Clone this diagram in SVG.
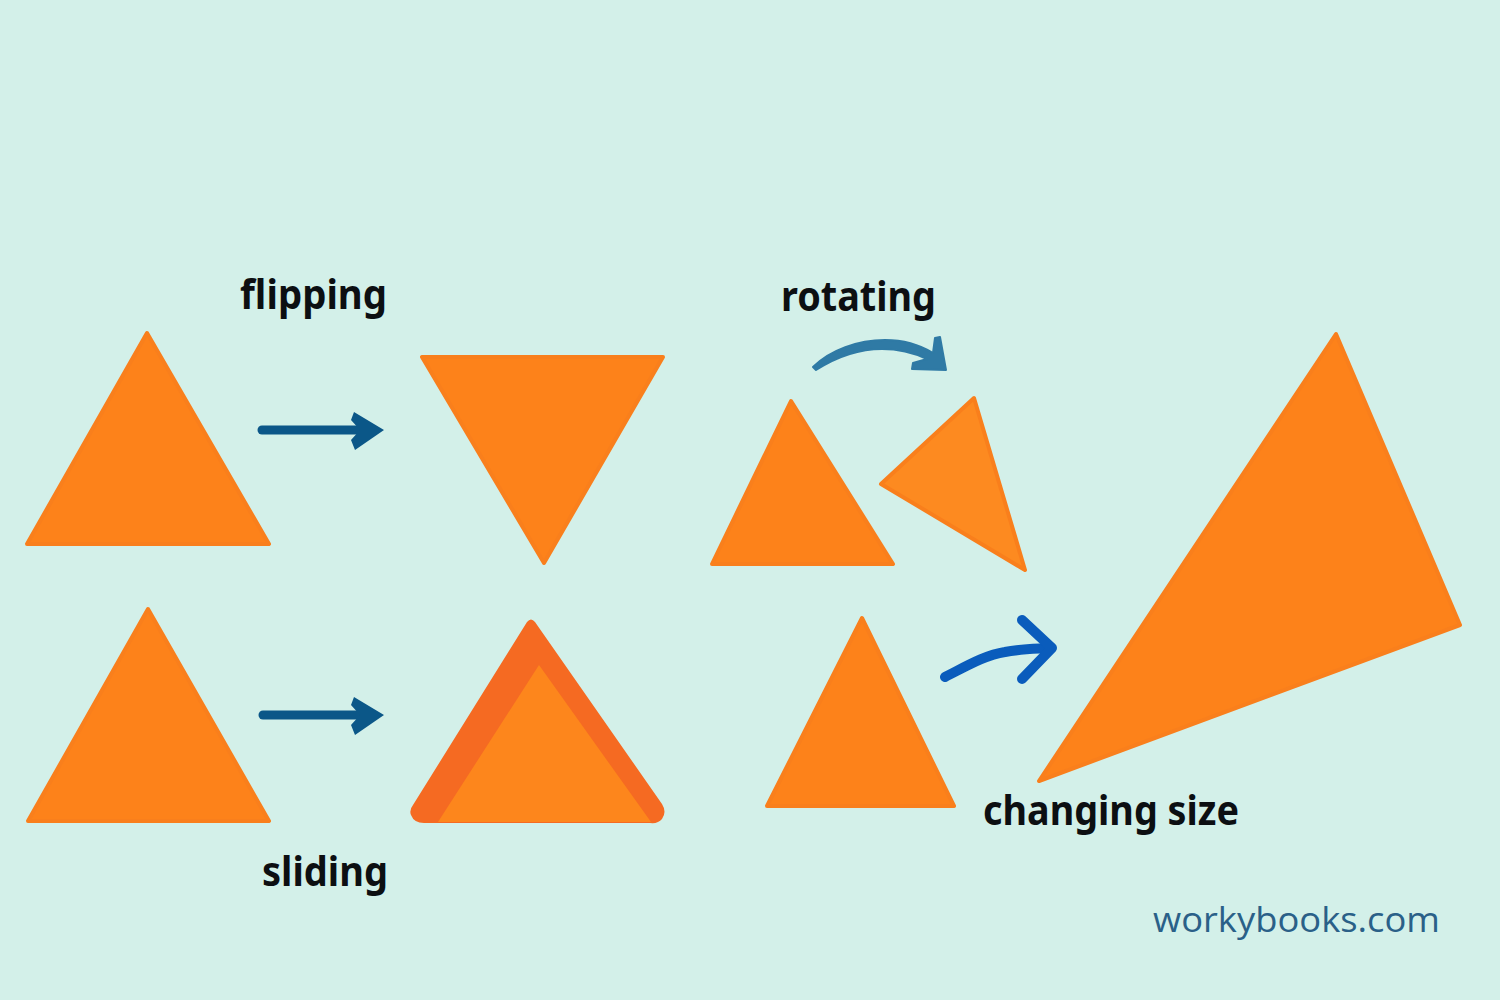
<svg xmlns="http://www.w3.org/2000/svg" width="1500" height="1000" viewBox="0 0 1500 1000">
<defs>
<style>
.tri{fill:#fd821a;stroke:#f97f1c;stroke-width:4;stroke-linejoin:round}
.lbl{font-family:"Noto Sans","Open Sans",sans-serif;font-weight:700;font-size:41px;fill:#0c0f12}
.blue{fill:none;stroke-linecap:round;stroke-linejoin:round}
</style>
</defs>
<rect width="1500" height="1000" fill="#d3f0e9"/>
<g id="tri-flip-a"><polygon class="tri" points="147,333 269,544 27,544"/></g>
<g id="tri-flip-b"><polygon class="tri" points="422,357 663,357 544,563"/></g>
<g id="tri-slide-a"><polygon class="tri" points="148,609 269,821 28,821"/></g>
<g id="tri-slide-b">
<path d="M527,622 Q531,617 535,622 L662,804 Q667,812 662,819 Q658,824 650,823 L424,823 Q414,823 411,815 Q409,810 413,805Z" fill="#f56a22"/>
<polygon points="539,665 651,822 438,822" fill="#fd861c"/>
</g>
<g id="tri-rotate-a"><polygon class="tri" points="791,401 893,564 712,564"/></g>
<g id="tri-rotate-b"><polygon class="tri" style="fill:#fd8a20" points="974,398 1025,570 881,484"/></g>
<g id="tri-size-a"><polygon class="tri" points="862,618 954,806 767,806"/></g>
<g id="tri-size-b"><polygon class="tri" points="1336,334 1460,625 1039,781"/></g>
<g id="connectors">
<g id="arrow-flip">
<path class="blue" d="M262,430H365" stroke="#0b5788" stroke-width="9"/>
<path d="M354,412 L384,430 L355,450 L351,440 L360,430 L351,420Z" fill="#0b5788"/>
</g>
<g id="arrow-slide">
<path class="blue" d="M263,715H365" stroke="#0b5788" stroke-width="9"/>
<path d="M354,697 L384,715 L355,735 L351,725 L360,715 L351,705Z" fill="#0b5788"/>
</g>
<g id="arrow-rotate">
<path d="M813,367 C830,350 858,340 885,340 C905,340 920,345 933,353 L935,338 L940,337 L946,370 L912,369 L913,363 L927,359 C912,352 898,349 882,349 C860,349 838,356 816,370Z" fill="#2f7aa5" stroke="#2f7aa5" stroke-width="2" stroke-linejoin="round"/>
</g>
<g id="arrow-size">
<path class="blue" d="M945,677 C965,667 985,655 1005,652 C1020,649 1035,649 1051,648" stroke="#0a5cbc" stroke-width="10"/>
<path class="blue" d="M1022,620 L1052,648 L1022,679" stroke="#0a5cbc" stroke-width="10"/>
</g>
</g>
<g id="labels">
<text class="lbl" x="240" y="309" textLength="147" lengthAdjust="spacingAndGlyphs">flipping</text>
<text class="lbl" x="781" y="311" textLength="155" lengthAdjust="spacingAndGlyphs">rotating</text>
<text class="lbl" x="262" y="886" textLength="126" lengthAdjust="spacingAndGlyphs">sliding</text>
<text class="lbl" x="983" y="825" textLength="256" lengthAdjust="spacingAndGlyphs">changing size</text>
<text x="1153" y="932" font-family="'Open Sans',sans-serif" font-size="34" fill="#2a6088" textLength="287" lengthAdjust="spacingAndGlyphs">workybooks.com</text>
</g>
</svg>
